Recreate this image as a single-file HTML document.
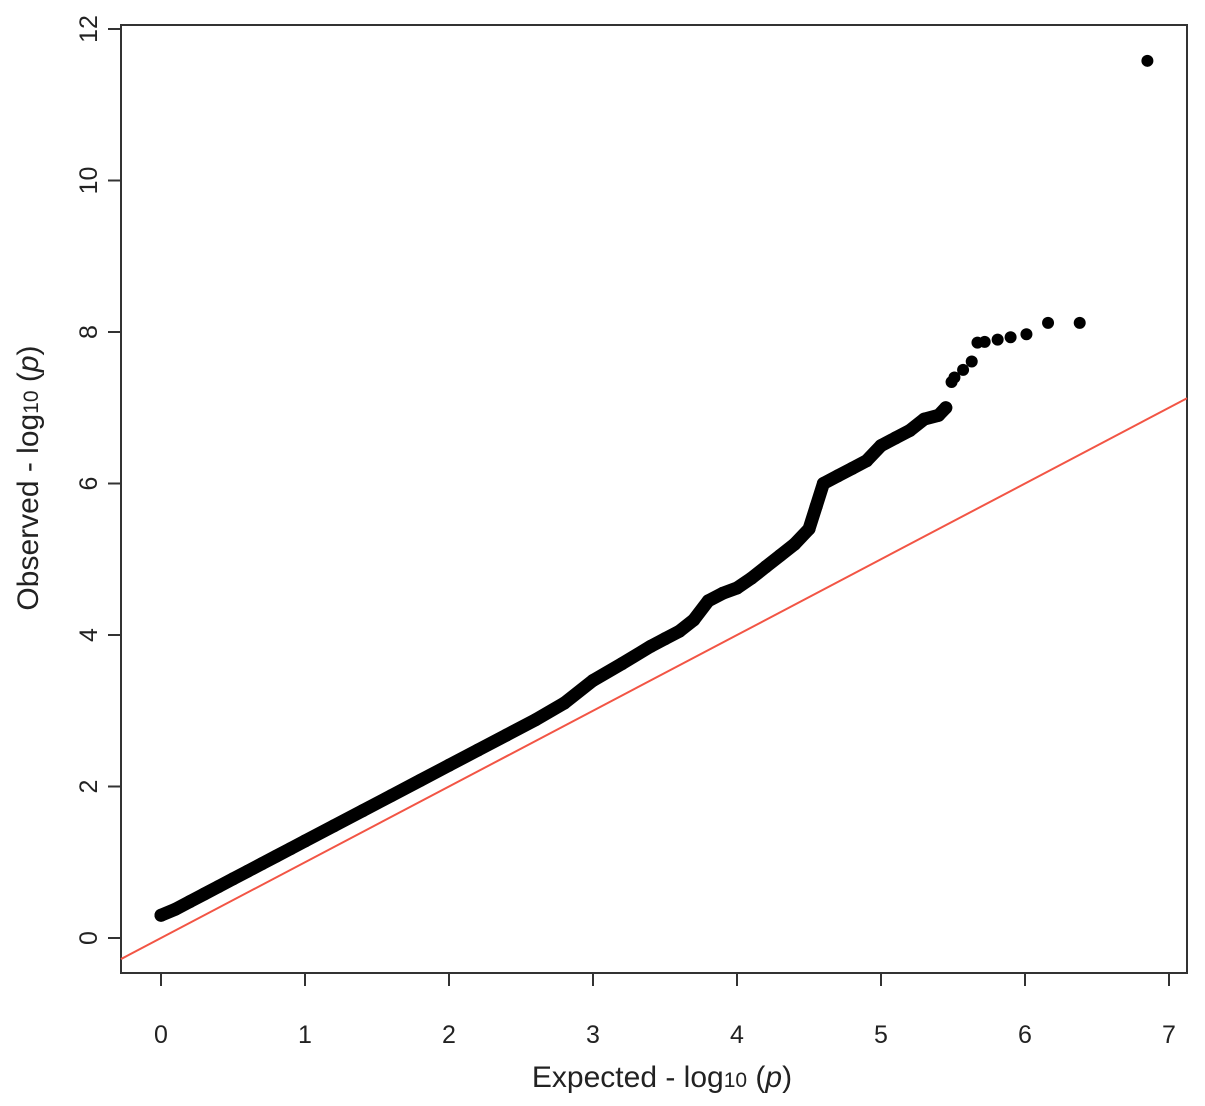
<!DOCTYPE html>
<html><head><meta charset="utf-8"><style>
body{margin:0;background:#fff}
svg{display:block;font-family:"Liberation Sans",sans-serif}
</style></head><body>
<svg id="chart" width="1205" height="1106" viewBox="0 0 1205 1106">
<rect x="0" y="0" width="1205" height="1106" fill="#fff"/>
<rect x="121" y="25" width="1066" height="948" fill="none" stroke="#333" stroke-width="2"/>
<line id="refline" stroke="#f25545" stroke-width="2"/>
<path id="curve" fill="none" stroke="#000" stroke-width="13" stroke-linejoin="round" stroke-linecap="round"/>
<g id="points"></g>
<g id="axes"></g>
<text x="662" y="1087" font-size="30" text-anchor="middle" fill="#222">Expected - log<tspan font-size="21">10</tspan> (<tspan font-style="italic">p</tspan>)</text>
<text transform="translate(38,478) rotate(-90)" font-size="30" text-anchor="middle" fill="#222">Observed - log<tspan font-size="21">10</tspan> (<tspan font-style="italic">p</tspan>)</text>
</svg>
<script>
const expected = [0,0.1,0.2,0.3,0.4,0.5,0.6,0.7,0.8,0.9,1.0,1.2,1.4,1.6,1.8,2.0,2.2,2.4,2.6,2.8,3.0,3.2,3.4,3.5,3.6,3.7,3.8,3.9,4.0,4.1,4.2,4.3,4.4,4.5,4.55,4.6,4.7,4.8,4.9,5.0,5.1,5.2,5.3,5.4,5.45];
const observed = [0.3,0.38,0.48,0.58,0.68,0.78,0.88,0.98,1.08,1.18,1.28,1.48,1.68,1.88,2.08,2.28,2.48,2.68,2.88,3.1,3.4,3.62,3.85,3.95,4.05,4.2,4.45,4.55,4.62,4.75,4.9,5.05,5.2,5.4,5.7,6.0,6.1,6.2,6.3,6.5,6.6,6.7,6.85,6.9,7.0];
const tailExpected = [5.49,5.51,5.57,5.63,5.67,5.72,5.81,5.90,6.01,6.16,6.38,6.85];
const tailObserved = [7.34,7.40,7.50,7.61,7.86,7.87,7.90,7.93,7.97,8.12,8.12,11.58];
const xTicks = [0,1,2,3,4,5,6,7];
const yTicks = [0,2,4,6,8,10,12];
const xMin=-0.278, xMax=7.125;
const NS="http://www.w3.org/2000/svg";
function sx(v){return 161+v*144.0;}
function sy(v){return 938-v*75.75;}
function mk(tag,attrs,parent){const e=document.createElementNS(NS,tag);for(const k in attrs)e.setAttribute(k,attrs[k]);parent.appendChild(e);return e;}
const ref=document.getElementById('refline');
ref.setAttribute('x1',sx(xMin));ref.setAttribute('y1',sy(xMin));
ref.setAttribute('x2',sx(xMax));ref.setAttribute('y2',sy(xMax));
let d='';
expected.forEach((e,i)=>{d+=(i?'L':'M')+sx(e)+','+sy(observed[i]);});
document.getElementById('curve').setAttribute('d',d);
const pts=document.getElementById('points');
expected.forEach((e,i)=>{
  const c=mk('circle',{cx:sx(e),cy:sy(observed[i]),r:6.5,fill:'#000'},pts);
  
  
});
tailExpected.forEach((e,i)=>{
  const c=mk('circle',{cx:sx(e),cy:sy(tailObserved[i]),r:6,fill:'#000'},pts);
  
  
});
const ax=document.getElementById('axes');
xTicks.forEach(t=>{
  const l=mk('line',{x1:sx(t),x2:sx(t),y1:973,y2:986,stroke:'#333','stroke-width':2},ax);
  
  
  const tx=mk('text',{x:sx(t),y:1043,'font-size':25,'text-anchor':'middle',fill:'#222'},ax);
  tx.textContent=t;
  
  
});
yTicks.forEach(t=>{
  const l=mk('line',{x1:108,x2:121,y1:sy(t),y2:sy(t),stroke:'#333','stroke-width':2},ax);
  
  
  const tx=mk('text',{transform:'translate(97,'+sy(t)+') rotate(-90)','font-size':25,'text-anchor':'middle',fill:'#222'},ax);
  tx.textContent=t;
  
  
});
</script>
</body></html>
